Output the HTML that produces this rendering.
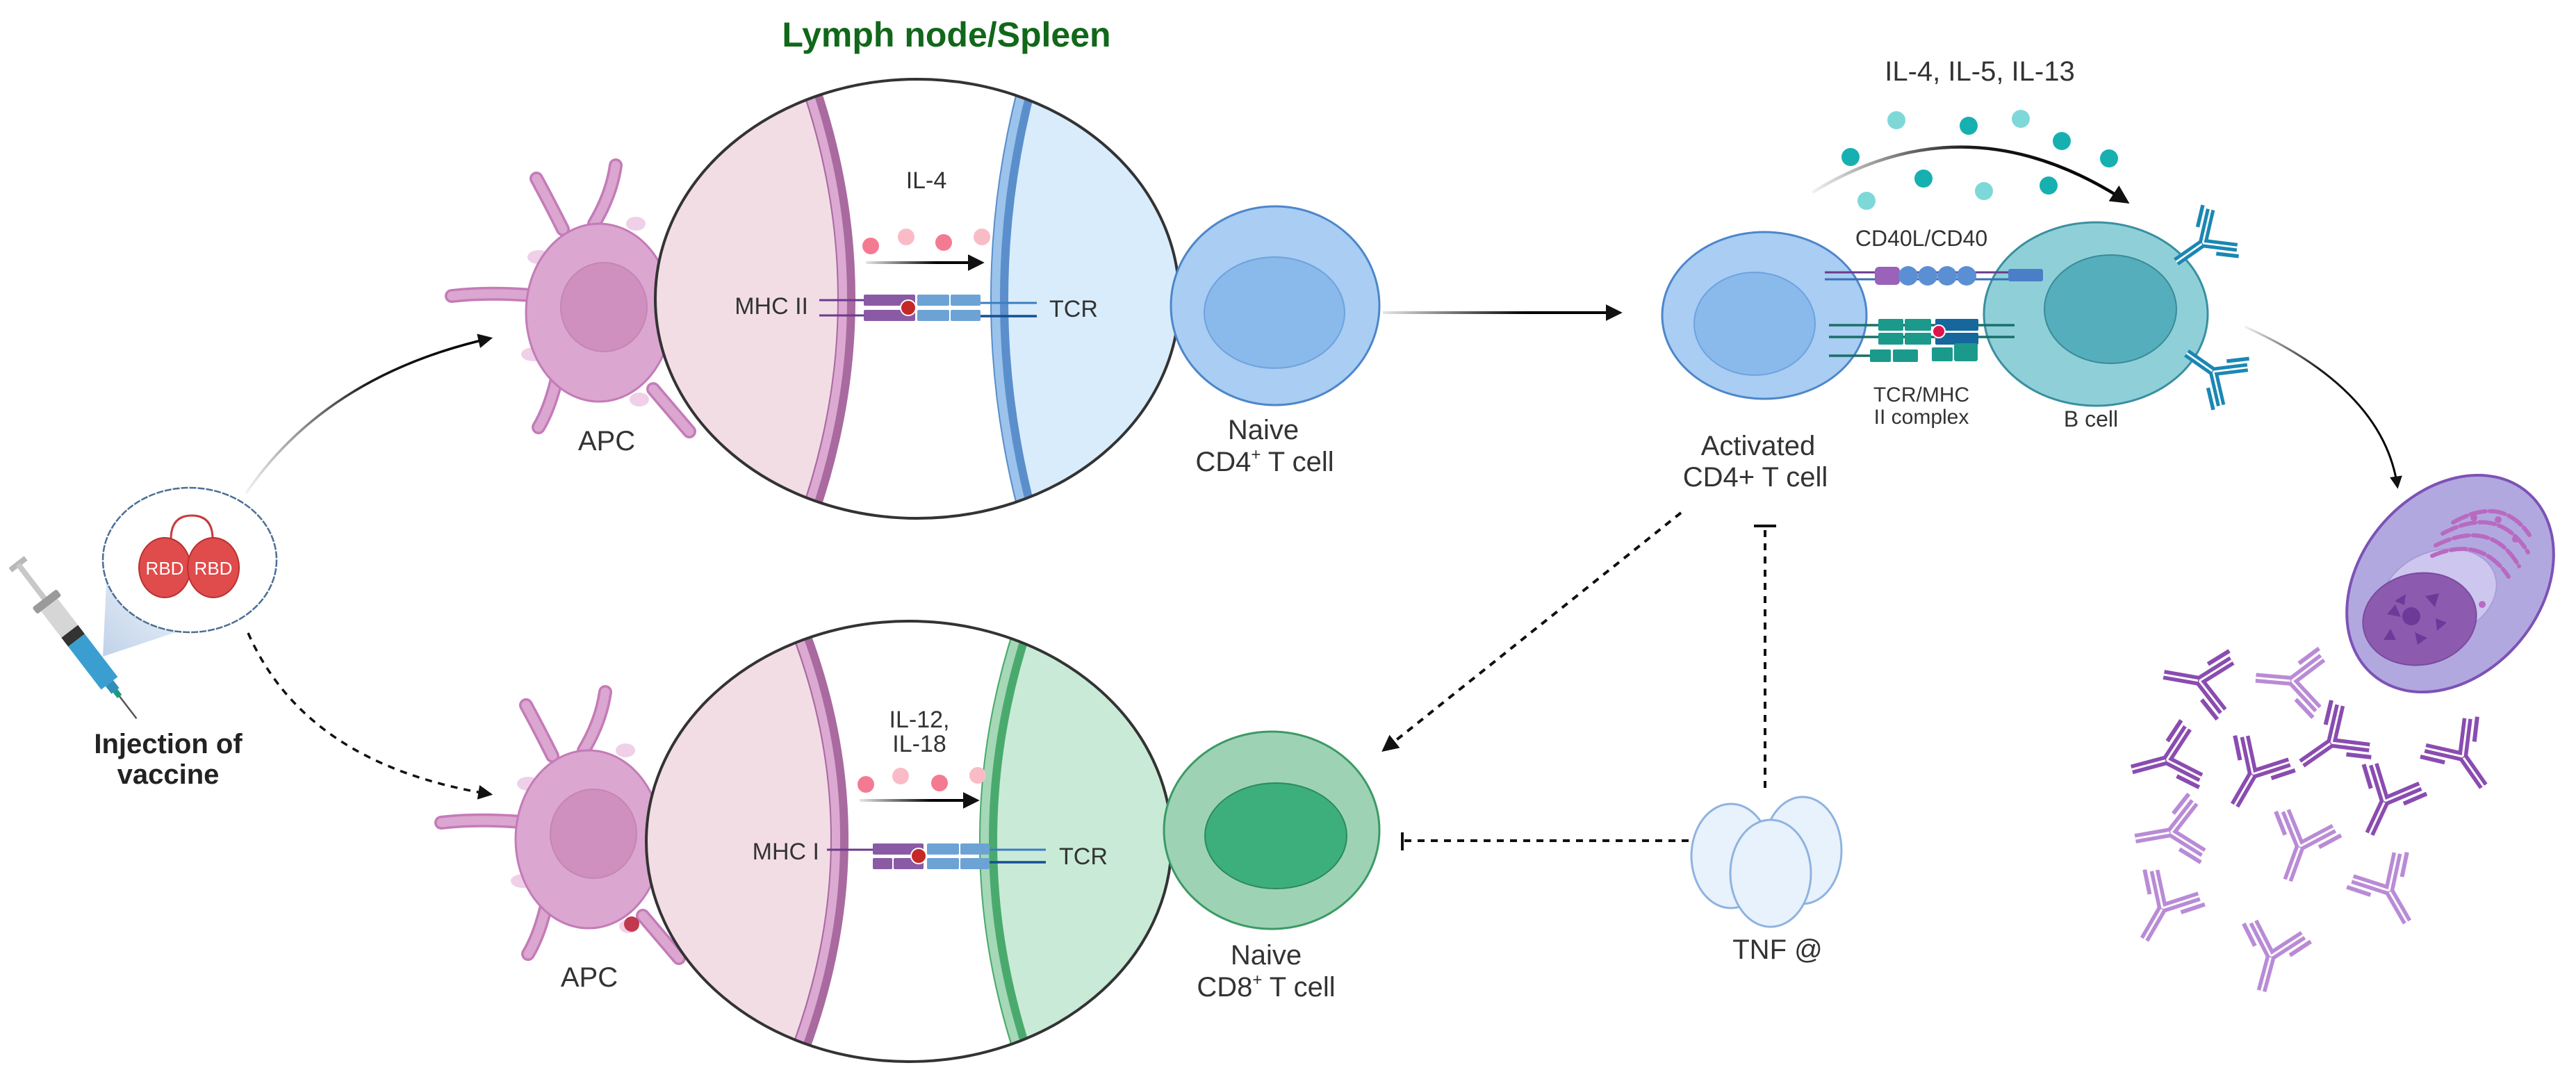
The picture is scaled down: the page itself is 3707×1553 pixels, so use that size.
<!DOCTYPE html>
<html><head><meta charset="utf-8"><style>html,body{margin:0;padding:0;background:#fff}svg{display:block}text{font-family:"Liberation Sans",sans-serif;fill:#333}</style></head><body>
<svg xmlns="http://www.w3.org/2000/svg" width="3707" height="1553" viewBox="0 0 3707 1553">
<defs>
<linearGradient id="gr" x1="0" y1="0" x2="1" y2="0"><stop offset="0" stop-color="#000" stop-opacity="0.05"/><stop offset="0.5" stop-color="#000" stop-opacity="0.9"/><stop offset="1" stop-color="#000"/></linearGradient>
<linearGradient id="g1" gradientUnits="userSpaceOnUse" x1="1246" y1="0" x2="1418" y2="0"><stop offset="0" stop-color="#000" stop-opacity="0.1"/><stop offset="0.6" stop-color="#000"/></linearGradient>
<linearGradient id="g2" gradientUnits="userSpaceOnUse" x1="1990" y1="0" x2="2336" y2="0"><stop offset="0" stop-color="#000" stop-opacity="0.1"/><stop offset="0.6" stop-color="#000"/></linearGradient>
<linearGradient id="g3" gradientUnits="userSpaceOnUse" x1="1237" y1="0" x2="1411" y2="0"><stop offset="0" stop-color="#000" stop-opacity="0.1"/><stop offset="0.6" stop-color="#000"/></linearGradient>
<linearGradient id="gcone" x1="0" y1="1" x2="1" y2="0"><stop offset="0" stop-color="#b9cde6"/><stop offset="1" stop-color="#eef3fa"/></linearGradient>
<marker id="ah" viewBox="0 0 10 10" refX="8" refY="5" markerWidth="6" markerHeight="6" orient="auto" markerUnits="strokeWidth"><path d="M0,0 L10,5 L0,10 Z" fill="#111"/></marker>
<clipPath id="c1"><ellipse cx="1320" cy="430" rx="377" ry="316"/></clipPath>
<clipPath id="c2"><ellipse cx="1308" cy="1211" rx="378" ry="317"/></clipPath>
<g id="apc">
 <g stroke="#c47bb8" stroke-width="20" stroke-linecap="round" fill="none">
  <path d="M810 330 Q790 290 772 257"/><path d="M855 322 Q880 280 886 238"/><path d="M765 425 Q700 420 650 426"/><path d="M800 550 Q790 590 775 615"/><path d="M940 560 Q970 595 992 621"/>
 </g>
 <g stroke="#dba6d0" stroke-width="13" stroke-linecap="round" fill="none">
  <path d="M810 330 Q790 290 772 257"/><path d="M855 322 Q880 280 886 238"/><path d="M765 425 Q700 420 650 426"/><path d="M800 550 Q790 590 775 615"/><path d="M940 560 Q970 595 992 621"/>
 </g>
 <ellipse cx="775" cy="370" rx="16" ry="10" fill="#efd0e8"/><ellipse cx="768" cy="510" rx="18" ry="10" fill="#efd0e8"/><ellipse cx="915" cy="322" rx="14" ry="10" fill="#efd0e8"/><ellipse cx="920" cy="575" rx="14" ry="10" fill="#efd0e8"/>
 <ellipse cx="862" cy="450" rx="105" ry="128" fill="#dba6d0" stroke="#c47bb8" stroke-width="3"/>
 <ellipse cx="869" cy="442" rx="62" ry="64" fill="#cf90bf" stroke="#c585b6" stroke-width="2"/>
</g>
<g id="ab" fill="none" stroke-linecap="butt">
 <path d="M0 0 V52 M0 0 L-37 -41 M0 0 L37 -41" stroke-width="14"/>
 <path d="M0 2 V52 M0 0 L-37 -41 M0 0 L37 -41" stroke="#fff" stroke-width="3"/>
 <path d="M-26 -8 L-50 -35 M26 -8 L50 -35" stroke-width="6"/>
</g>
</defs>

<text x="1362" y="67" font-size="50" font-weight="bold" text-anchor="middle" style="fill:#11671a">Lymph node/Spleen</text>

<g transform="translate(26,812) rotate(-37.5)">
 <rect x="-14" y="-4" width="28" height="8" fill="#b8b8b8"/>
 <rect x="-4" y="0" width="8" height="62" fill="#c8c8c8"/>
 <rect x="-22" y="62" width="44" height="12" rx="3" fill="#9a9a9a"/>
 <rect x="-15" y="74" width="30" height="50" fill="#d6d6d6"/>
 <rect x="-15" y="122" width="30" height="16" fill="#333"/>
 <rect x="-15" y="138" width="30" height="78" fill="#3a9fd0"/>
 <rect x="-7" y="216" width="14" height="14" fill="#2f8fb8"/>
 <rect x="-4" y="230" width="8" height="10" fill="#1a9a80"/>
 <line x1="0" y1="240" x2="0" y2="280" stroke="#555" stroke-width="2.5"/>
</g>
<path d="M153 840 L268 905 L148 945 Z" fill="url(#gcone)" opacity="0.9"/>
<ellipse cx="273" cy="806" rx="125" ry="104" fill="#fff" stroke="#4a6f95" stroke-width="2.5" stroke-dasharray="10 2"/>
<path d="M246 776 Q246 742 276 742 Q306 742 306 776" fill="none" stroke="#c93a3a" stroke-width="3"/>
<ellipse cx="237" cy="817" rx="37" ry="43" fill="#e04b4b" stroke="#b83030" stroke-width="2"/>
<ellipse cx="307" cy="817" rx="37" ry="43" fill="#e04b4b" stroke="#b83030" stroke-width="2"/>
<text x="237" y="827" font-size="26" text-anchor="middle" style="fill:#fff">RBD</text>
<text x="307" y="827" font-size="26" text-anchor="middle" style="fill:#fff">RBD</text>
<text x="242" y="1084" font-size="40" font-weight="bold" text-anchor="middle" style="fill:#222">Injection of</text>
<text x="242" y="1128" font-size="40" font-weight="bold" text-anchor="middle" style="fill:#222">vaccine</text>

<path d="M354 710 Q470 540 705 487" fill="none" stroke="url(#gr)" stroke-width="3.5" marker-end="url(#ah)"/>
<path d="M357 911 Q440 1100 705 1143" fill="none" stroke="#111" stroke-width="3.5" stroke-dasharray="10 9" marker-end="url(#ah)"/>

<use href="#apc"/>
<text x="873" y="648" font-size="40" text-anchor="middle">APC</text>
<use href="#apc" transform="translate(-15,758)"/>
<circle cx="909" cy="1330" r="11" fill="#c0394f"/>
<text x="848" y="1420" font-size="40" text-anchor="middle">APC</text>

<ellipse cx="1320" cy="430" rx="377" ry="316" fill="#fff"/>
<g clip-path="url(#c1)">
 <path d="M1150 80 Q1286 430 1150 780 L900 780 L900 80 Z" fill="#f2dde5"/>
 <path d="M1150 80 Q1286 430 1150 780" fill="none" stroke="#a96aa0" stroke-width="26"/>
 <path d="M1150 80 Q1286 430 1150 780" fill="none" stroke="#dca9d3" stroke-width="12" transform="translate(-5,0)"/>
 <path d="M1490 80 Q1386 430 1490 780 L1750 780 L1750 80 Z" fill="#d9ecfb"/>
 <path d="M1490 80 Q1386 430 1490 780" fill="none" stroke="#5a8fcb" stroke-width="26"/>
 <path d="M1490 80 Q1386 430 1490 780" fill="none" stroke="#9cc3ec" stroke-width="12" transform="translate(-5,0)"/>
</g>
<ellipse cx="1320" cy="430" rx="377" ry="316" fill="none" stroke="#333" stroke-width="4"/>
<text x="1333" y="271" font-size="34" text-anchor="middle">IL-4</text>
<circle cx="1253" cy="354" r="12" fill="#f47a92"/><circle cx="1304" cy="341" r="12" fill="#f9bcc7"/><circle cx="1358" cy="349" r="12" fill="#f47a92"/><circle cx="1413" cy="341" r="12" fill="#f9bcc7"/>
<line x1="1246" y1="378" x2="1412" y2="378" stroke="url(#g1)" stroke-width="4" marker-end="url(#ah)"/>
<text x="1163" y="452" font-size="34" text-anchor="end">MHC II</text>
<line x1="1179" y1="432" x2="1250" y2="432" stroke="#6a3c8c" stroke-width="3"/><line x1="1179" y1="454" x2="1250" y2="454" stroke="#6a3c8c" stroke-width="3"/>
<rect x="1243" y="424" width="74" height="16" rx="2" fill="#8a5aa5"/><rect x="1243" y="446" width="74" height="16" rx="2" fill="#8a5aa5"/>
<rect x="1320" y="424" width="46" height="16" rx="2" fill="#6da3d4"/><rect x="1368" y="424" width="43" height="16" rx="2" fill="#6da3d4"/>
<rect x="1320" y="446" width="46" height="16" rx="2" fill="#6da3d4"/><rect x="1368" y="446" width="43" height="16" rx="2" fill="#6da3d4"/>
<circle cx="1307" cy="443" r="11" fill="#c62828" stroke="#fff" stroke-width="2"/>
<line x1="1411" y1="436" x2="1492" y2="436" stroke="#3a7fc0" stroke-width="3"/><line x1="1411" y1="455" x2="1492" y2="455" stroke="#154f93" stroke-width="3.5"/>
<text x="1510" y="456" font-size="34">TCR</text>

<ellipse cx="1835" cy="440" rx="150" ry="143" fill="#a9cdf3" stroke="#4d86c9" stroke-width="3"/>
<ellipse cx="1834" cy="450" rx="101" ry="80" fill="#8ab9ec" stroke="#6ea3dc" stroke-width="2"/>
<text x="1818" y="632" font-size="40" text-anchor="middle">Naive</text>
<text x="1820" y="678" font-size="40" text-anchor="middle">CD4<tspan font-size="24" dy="-16">+</tspan><tspan dy="16"> T cell</tspan></text>
<line x1="1990" y1="450" x2="2330" y2="450" stroke="url(#g2)" stroke-width="4" marker-end="url(#ah)"/>

<ellipse cx="1308" cy="1211" rx="378" ry="317" fill="#fff"/>
<g clip-path="url(#c2)">
 <path d="M1140 880 Q1276 1205 1140 1540 L880 1540 L880 880 Z" fill="#f2dde5"/>
 <path d="M1140 880 Q1276 1205 1140 1540" fill="none" stroke="#a96aa0" stroke-width="26"/>
 <path d="M1140 880 Q1276 1205 1140 1540" fill="none" stroke="#dca9d3" stroke-width="12" transform="translate(-5,0)"/>
 <path d="M1480 880 Q1364 1210 1480 1540 L1740 1540 L1740 880 Z" fill="#c9ead7"/>
 <path d="M1480 880 Q1364 1210 1480 1540" fill="none" stroke="#4aaa6e" stroke-width="26"/>
 <path d="M1480 880 Q1364 1210 1480 1540" fill="none" stroke="#a5d8b6" stroke-width="12" transform="translate(-5,0)"/>
</g>
<ellipse cx="1308" cy="1211" rx="378" ry="317" fill="none" stroke="#333" stroke-width="4"/>
<text x="1323" y="1047" font-size="34" text-anchor="middle">IL-12,</text>
<text x="1323" y="1082" font-size="34" text-anchor="middle">IL-18</text>
<circle cx="1246" cy="1129" r="12" fill="#f47a92"/><circle cx="1296" cy="1117" r="12" fill="#f9bcc7"/><circle cx="1352" cy="1127" r="12" fill="#f47a92"/><circle cx="1407" cy="1116" r="12" fill="#f9bcc7"/>
<line x1="1237" y1="1152" x2="1405" y2="1152" stroke="url(#g3)" stroke-width="4" marker-end="url(#ah)"/>
<text x="1179" y="1237" font-size="34" text-anchor="end">MHC I</text>
<line x1="1190" y1="1223" x2="1258" y2="1223" stroke="#6a3c8c" stroke-width="3"/>
<rect x="1256" y="1214" width="73" height="16" rx="2" fill="#8a5aa5"/>
<rect x="1256" y="1235" width="28" height="16" rx="2" fill="#8a5aa5"/><rect x="1286" y="1235" width="43" height="16" rx="2" fill="#8a5aa5"/>
<rect x="1334" y="1214" width="46" height="16" rx="2" fill="#6da3d4"/><rect x="1382" y="1214" width="42" height="16" rx="2" fill="#6da3d4"/>
<rect x="1334" y="1235" width="46" height="16" rx="2" fill="#6da3d4"/><rect x="1382" y="1235" width="42" height="16" rx="2" fill="#6da3d4"/>
<circle cx="1322" cy="1232" r="11" fill="#c62828" stroke="#fff" stroke-width="2"/>
<line x1="1424" y1="1223" x2="1505" y2="1223" stroke="#3a7fc0" stroke-width="3"/><line x1="1424" y1="1241" x2="1505" y2="1241" stroke="#154f93" stroke-width="3.5"/>
<text x="1524" y="1244" font-size="34">TCR</text>

<ellipse cx="1830" cy="1195" rx="155" ry="142" fill="#9dd3b4" stroke="#3c9a66" stroke-width="3"/>
<ellipse cx="1836" cy="1203" rx="102" ry="76" fill="#3daf7d" stroke="#2b8a5c" stroke-width="2"/>
<text x="1822" y="1388" font-size="40" text-anchor="middle">Naive</text>
<text x="1822" y="1434" font-size="40" text-anchor="middle">CD8<tspan font-size="24" dy="-16">+</tspan><tspan dy="16"> T cell</tspan></text>

<ellipse cx="2539" cy="454" rx="147" ry="120" fill="#a9cdf3" stroke="#4d86c9" stroke-width="3"/>
<ellipse cx="2525" cy="466" rx="87" ry="74" fill="#8ab9ec" stroke="#6ea3dc" stroke-width="2"/>
<text x="2530" y="655" font-size="40" text-anchor="middle">Activated</text>
<text x="2526" y="700" font-size="40" text-anchor="middle">CD4+ T cell</text>

<ellipse cx="3016" cy="452" rx="161" ry="132" fill="#8fd0d8" stroke="#3a8fa0" stroke-width="3"/>
<ellipse cx="3037" cy="445" rx="95" ry="78" fill="#55aebc" stroke="#3a8a98" stroke-width="2"/>
<text x="3009" y="614" font-size="32" text-anchor="middle">B cell</text>
<use href="#ab" transform="translate(3170,350) rotate(55) scale(0.9)" stroke="#1a87b3"/>
<use href="#ab" transform="translate(3185,535) rotate(125) scale(0.9)" stroke="#1a87b3"/>

<text x="2765" y="354" font-size="32" text-anchor="middle">CD40L/CD40</text>
<line x1="2626" y1="392" x2="2940" y2="392" stroke="#6a3c8c" stroke-width="3"/><line x1="2626" y1="402" x2="2940" y2="402" stroke="#3a6fb8" stroke-width="3"/>
<rect x="2698" y="384" width="36" height="26" rx="6" fill="#9a62b8"/>
<circle cx="2746" cy="397" r="14" fill="#5b8fd4"/><circle cx="2774" cy="397" r="14" fill="#5b8fd4"/><circle cx="2802" cy="397" r="14" fill="#5b8fd4"/><circle cx="2830" cy="397" r="14" fill="#5b8fd4"/>
<rect x="2890" y="387" width="50" height="18" rx="3" fill="#4a7fc8"/>
<line x1="2632" y1="468" x2="2899" y2="468" stroke="#1b6f6a" stroke-width="3.5"/><line x1="2632" y1="485" x2="2899" y2="485" stroke="#1b6f6a" stroke-width="3.5"/>
<rect x="2703" y="459" width="36" height="17" rx="2" fill="#1b9a8c"/><rect x="2741" y="459" width="38" height="17" rx="2" fill="#1b9a8c"/>
<rect x="2703" y="479" width="36" height="17" rx="2" fill="#1b9a8c"/><rect x="2741" y="479" width="38" height="17" rx="2" fill="#1b9a8c"/>
<rect x="2785" y="459" width="62" height="17" rx="2" fill="#15679c"/><rect x="2785" y="479" width="62" height="17" rx="2" fill="#15679c"/>
<circle cx="2790" cy="477" r="9" fill="#e0144d" stroke="#fff" stroke-width="2"/>
<line x1="2632" y1="512" x2="2720" y2="512" stroke="#1b6f6a" stroke-width="3.5"/>
<rect x="2691" y="503" width="30" height="18" rx="2" fill="#1b9a8c"/><rect x="2724" y="503" width="36" height="18" rx="2" fill="#1b9a8c"/><rect x="2780" y="500" width="30" height="20" rx="2" fill="#1b9a8c"/><rect x="2812" y="494" width="34" height="26" rx="3" fill="#1b9a8c"/>
<text x="2765" y="578" font-size="30" text-anchor="middle">TCR/MHC</text>
<text x="2765" y="610" font-size="30" text-anchor="middle">II complex</text>

<text x="2849" y="116" font-size="40" text-anchor="middle">IL-4, IL-5, IL-13</text>
<g>
<circle cx="2729" cy="173" r="13" fill="#7fd8d8"/><circle cx="2833" cy="181" r="13" fill="#17b0b0"/><circle cx="2908" cy="171" r="13" fill="#7fd8d8"/><circle cx="2967" cy="203" r="13" fill="#17b0b0"/><circle cx="3035" cy="228" r="13" fill="#17b0b0"/><circle cx="2663" cy="226" r="13" fill="#17b0b0"/><circle cx="2768" cy="257" r="13" fill="#17b0b0"/><circle cx="2855" cy="275" r="13" fill="#7fd8d8"/><circle cx="2948" cy="267" r="13" fill="#17b0b0"/><circle cx="2686" cy="289" r="13" fill="#7fd8d8"/>
</g>
<path d="M2608 277 Q2830 140 3060 290" fill="none" stroke="url(#gr)" stroke-width="4.5" marker-end="url(#ah)"/>

<path d="M3230 470 Q3430 560 3450 700" fill="none" stroke="url(#gr)" stroke-width="3" marker-end="url(#ah)"/>

<ellipse cx="3526" cy="840" rx="172" ry="130" transform="rotate(-50 3526 840)" fill="#b2a8e0" stroke="#7d52b5" stroke-width="4"/>
<ellipse cx="3510" cy="855" rx="85" ry="62" transform="rotate(-20 3510 855)" fill="#cdc6ee" stroke="#a99cd8" stroke-width="2"/>
<g fill="none" stroke="#b86ac0" stroke-width="6" stroke-linecap="round" stroke-dasharray="22 6">
 <path d="M3500 800 Q3570 770 3610 830"/><path d="M3505 785 Q3585 745 3625 815"/><path d="M3515 768 Q3595 725 3638 795"/><path d="M3530 752 Q3600 712 3640 770"/>
</g>
<circle cx="3560" cy="745" r="5" fill="#b86ac0"/><circle cx="3595" cy="748" r="5" fill="#b86ac0"/><circle cx="3620" cy="776" r="5" fill="#b86ac0"/><circle cx="3572" cy="870" r="5" fill="#b86ac0"/>
<ellipse cx="3482" cy="891" rx="82" ry="66" transform="rotate(-10 3482 891)" fill="#8c5bb0" stroke="#7a4aa0" stroke-width="2"/>
<g fill="#6e3a99"><circle cx="3470" cy="887" r="13"/><path d="M3447 870 l-12 14 l20 4 z"/><path d="M3490 858 l20 -4 l-6 20 z"/><path d="M3505 890 l16 6 l-14 12 z"/><path d="M3475 910 l4 18 l14 -10 z"/><path d="M3440 905 l-10 16 l18 0 z"/><path d="M3462 855 l-2 16 l-14 -6 z"/></g>

<g stroke="#8a4cb0">
<use href="#ab" transform="translate(3165,980) rotate(100)"/>
<use href="#ab" transform="translate(3118,1094) rotate(75)"/>
<use href="#ab" transform="translate(3242,1114) rotate(30)"/>
<use href="#ab" transform="translate(3355,1069) rotate(55)"/>
<use href="#ab" transform="translate(3544,1089) rotate(-35)"/>
<use href="#ab" transform="translate(3432,1153) rotate(25)"/>
</g>
<g stroke="#b98bd6">
<use href="#ab" transform="translate(3298,980) rotate(95)"/>
<use href="#ab" transform="translate(3124,1198) rotate(80)"/>
<use href="#ab" transform="translate(3310,1218) rotate(20)"/>
<use href="#ab" transform="translate(3438,1282) rotate(-30)"/>
<use href="#ab" transform="translate(3112,1307) rotate(30)"/>
<use href="#ab" transform="translate(3268,1376) rotate(15)"/>
</g>

<line x1="2419" y1="738" x2="1992" y2="1079" stroke="#111" stroke-width="4" stroke-dasharray="10 9" marker-end="url(#ah)"/>
<line x1="2540" y1="1134" x2="2540" y2="759" stroke="#111" stroke-width="4" stroke-dasharray="10 9"/>
<line x1="2524" y1="757" x2="2556" y2="757" stroke="#111" stroke-width="4"/>
<line x1="2430" y1="1210" x2="2018" y2="1210" stroke="#111" stroke-width="4" stroke-dasharray="10 9"/>
<line x1="2018" y1="1198" x2="2018" y2="1224" stroke="#111" stroke-width="4"/>

<ellipse cx="2491" cy="1232" rx="57" ry="75" fill="#e8f2fc" stroke="#8fb3e0" stroke-width="3"/>
<ellipse cx="2594" cy="1224" rx="56" ry="77" fill="#e8f2fc" stroke="#8fb3e0" stroke-width="3"/>
<ellipse cx="2548" cy="1257" rx="58" ry="77" fill="#e8f2fc" stroke="#8fb3e0" stroke-width="3"/>
<text x="2558" y="1380" font-size="40" text-anchor="middle">TNF @</text>
</svg>
</body></html>
